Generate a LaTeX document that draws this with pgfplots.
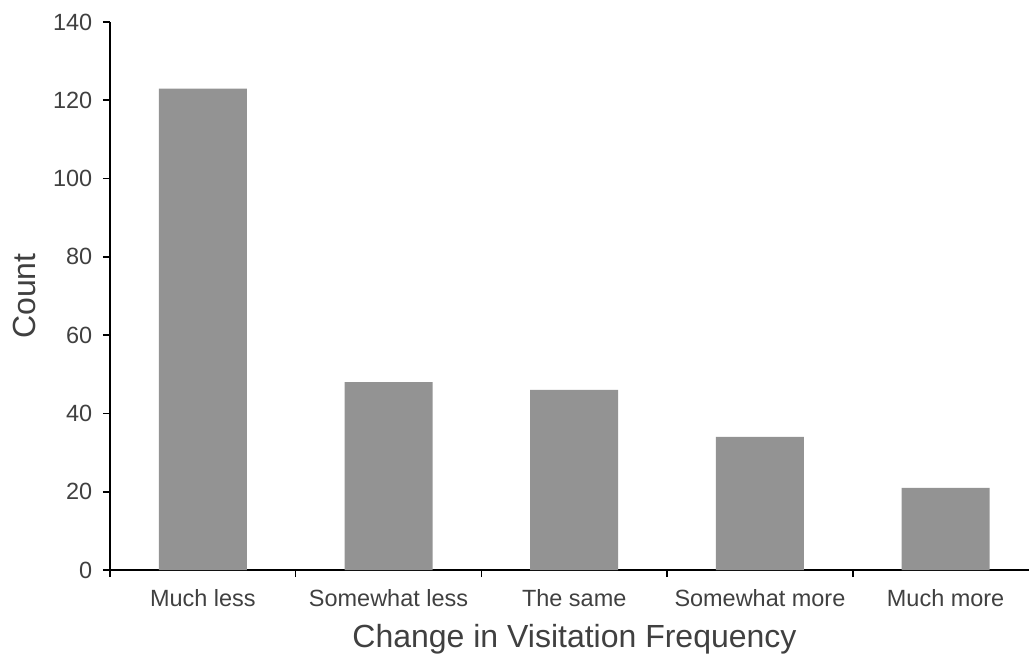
\documentclass[border=0pt]{standalone}
\usepackage{fontspec}
\setmainfont{Liberation Sans}
\usepackage{pgfplots}
\pgfplotsset{compat=1.18}
\definecolor{barc}{RGB}{147,147,147}
\definecolor{txt}{RGB}{64,64,64}
\begin{document}
\begin{tikzpicture}
\useasboundingbox (-82.5pt,-66pt) rectangle (689.25pt,427.5pt);
\begin{axis}[
  at={(0,0)}, anchor=south west,
  scale only axis, width=689.25pt, height=411pt,
  xmin=-0.5, xmax=4.449, ymin=0, ymax=140,
  axis x line*=bottom, axis y line*=left,
  axis line style={black, line width=1.2pt},
  tick align=outside,
  ytick={0,20,...,140},
  xtick={-0.5,0.5,1.5,2.5,3.5,4.5},
  xticklabels={},
  extra x ticks={0,1,2,3,4},
  extra x tick labels={Much less,Somewhat less,The same,Somewhat more,Much more},
  extra x tick style={major tick length=0pt, xticklabel style={anchor=base, yshift=-27.5pt}},
  major tick length=5.25pt,
  tick style={black, line width=1.2pt},
  /pgf/number format/assume math mode=true,
  tick label style={font=\fontsize{17.6}{20}\selectfont, text=txt},
  yticklabel style={xshift=-4.5pt},
  label style={font=\fontsize{24}{28}\selectfont, text=txt},
  xlabel={Change in Visitation Frequency},
  ylabel={Count},
  xlabel style={at={(axis description cs:0.5054,-0.1423)}, anchor=base},
  ylabel style={at={(axis description cs:-0.0816,0.5)}, anchor=base},
  clip=false,
]
\addplot[ybar, bar width=66pt, fill=barc, draw=none] coordinates {
  (0,123) (1,48) (2,46) (3,34) (4,21)
};
\end{axis}
\end{tikzpicture}
\end{document}
